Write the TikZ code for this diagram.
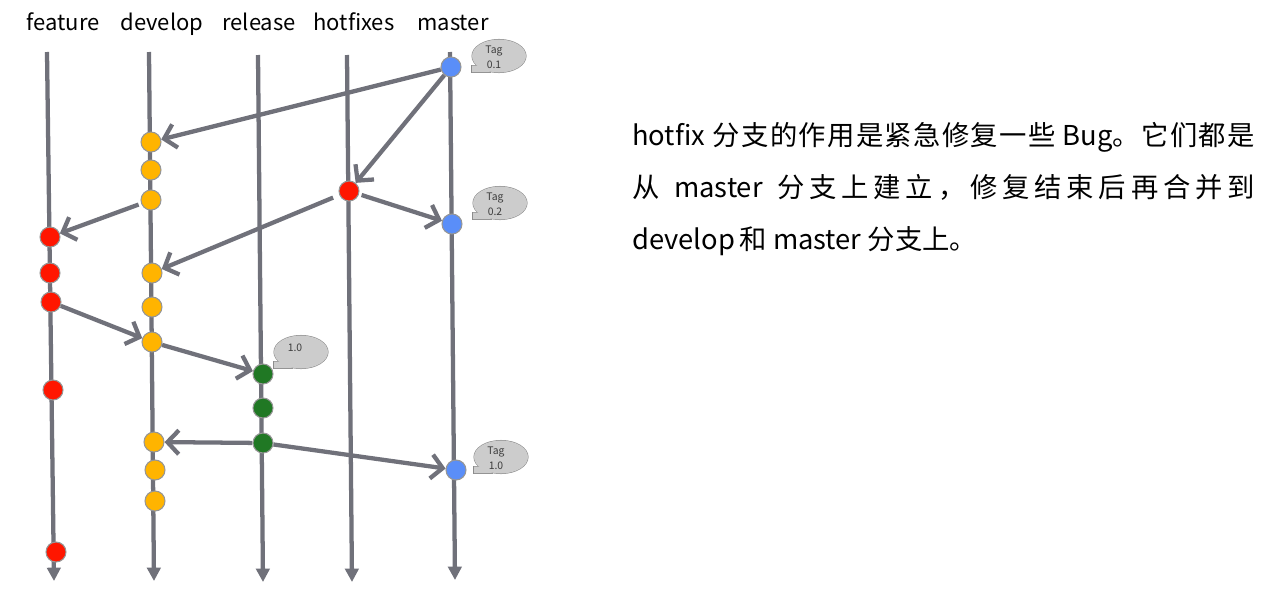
\documentclass[tikz,border=0pt]{standalone}
\usepackage{fontspec}
\newfontfamily\cjk{Noto Sans CJK SC}
\usetikzlibrary{arrows.meta,calc}
\definecolor{linegray}{RGB}{112,113,122}
\definecolor{nodeborder}{RGB}{150,150,150}
\definecolor{cblue}{RGB}{90,142,248}
\definecolor{corange}{RGB}{255,180,0}
\definecolor{cred}{RGB}{255,22,0}
\definecolor{cgreen}{RGB}{32,120,36}
\definecolor{bubfill}{RGB}{204,204,204}
\definecolor{bubline}{RGB}{140,140,140}
\definecolor{tagtextc}{RGB}{60,60,60}
\newcommand\jg{\hskip 0pt plus 1fil}
\newcommand\tagbub[2]{%
  \draw[bubline,line width=0.8pt] (#1-21,#2+9.5) -- (#1-27,#2+9.5) -- (#1-27,#2+16) -- (#1-8,#2+16);
  \draw[bubline,line width=0.8pt] (#1,#2) ellipse [x radius=27, y radius=16.5];
  \fill[bubfill] (#1-21,#2+9.5) -- (#1-27,#2+9.5) -- (#1-27,#2+16) -- (#1-8,#2+16) -- cycle;
  \fill[bubfill] (#1,#2) ellipse [x radius=27, y radius=16.5];
}
\begin{document}
\begin{tikzpicture}[x=0.75pt,y=-0.75pt,
  branchlabel/.style={font=\cjk\fontsize{16.5}{18}\selectfont, text=black, anchor=base, inner sep=0pt},
  branch/.style={draw=linegray, line width=3.2pt, -{Triangle[length=10pt,width=10pt]}},
  merge/.style={draw=linegray, line width=3.2pt, -{Straight Barb[length=8.5pt,width=18pt]}},
  commit/.style={circle, draw=nodeborder, line width=0.8pt, minimum size=15pt, inner sep=0pt},
  blue commit/.style={commit, fill=cblue},
  orange commit/.style={commit, fill=corange},
  red commit/.style={commit, fill=cred},
  green commit/.style={commit, fill=cgreen},
  tagtext/.style={font=\cjk\fontsize{7.8}{11}\selectfont, text=tagtextc, align=center, inner sep=0pt},
  desc/.style={font=\cjk\fontsize{20.5}{24}\selectfont, text=black, anchor=base west, inner sep=0pt}
]
\useasboundingbox (0,0) rectangle (1265,593);
\fill[white] (0,0) rectangle (1265,593);

% branch labels
\node[branchlabel] (lfeature) at (63,30) {feature};
\node[branchlabel] (ldevelop) at (162,30) {develop};
\node[branchlabel] (lrelease) at (259,30) {release};
\node[branchlabel] (lhotfixes) at (354,30) {hotfixes};
\node[branchlabel] (lmaster) at (453,30) {master};

% branch lines
\coordinate (ft) at (47,52);  \coordinate (fb) at (54,581);
\coordinate (dt) at (149,52); \coordinate (db) at (154,581);
\coordinate (rt) at (258,55); \coordinate (rb) at (263,582);
\coordinate (ht) at (347,55); \coordinate (hb) at (352,582);
\coordinate (mt) at (450,52); \coordinate (mb) at (455,580);
\draw[branch] (ft) -- (fb);
\draw[branch] (dt) -- (db);
\draw[branch] (rt) -- (rb);
\draw[branch] (ht) -- (hb);
\draw[branch] (mt) -- (mb);

% tags
\tagbub{499}{56}
\node[tagtext] (tag01) at (494,57) {Tag\\0.1};
\tagbub{500}{203}
\node[tagtext] (tag02) at (495,204) {Tag\\0.2};
\tagbub{301}{352}
\node[tagtext] (tag10r) at (295,348) {1.0};
\tagbub{501}{457}
\node[tagtext] (tag10m) at (496,458) {Tag\\1.0};

% commits
\node[blue commit] (M1) at (451,67) {};
\node[blue commit] (M2) at (452,224) {};
\node[blue commit] (M3) at (456,470) {};

\node[orange commit] (D1) at (151,142) {};
\node[orange commit] (D2) at (151,170) {};
\node[orange commit] (D3) at (151,200) {};
\node[orange commit] (D4) at (152,273) {};
\node[orange commit] (D5) at (152,307) {};
\node[orange commit] (D6) at (152,342) {};
\node[orange commit] (D7) at (154,442) {};
\node[orange commit] (D8) at (155,470) {};
\node[orange commit] (D9) at (155,501) {};

\node[red commit] (F1) at (50,237) {};
\node[red commit] (F2) at (50,273) {};
\node[red commit] (F3) at (51,302) {};
\node[red commit] (F4) at (53,390) {};
\node[red commit] (F5) at (56,552) {};

\node[red commit] (H1) at (349,191) {};

\node[green commit] (R1) at (263,374) {};
\node[green commit] (R2) at (263,408) {};
\node[green commit] (R3) at (263,443) {};

% merges
\draw[merge] (M1) -- (D1);
\draw[merge] (M1) -- (H1);
\draw[merge, shorten <=2pt] (H1) -- (M2);
\draw[merge, shorten <=5pt] (H1) -- (D4);
\draw[merge, shorten <=2pt] (D3) -- (F1);
\draw[merge] (F3) -- (D6);
\draw[merge] (D6) -- (R1);
\draw[merge] (R3) -- (D7);
\draw[merge] (R3) -- (M3);

% description
\node[desc] (t1) at (632,145) {\makebox[467pt][s]{hotfix\ \jg 分\jg 支\jg 的\jg 作\jg 用\jg 是\jg 紧\jg 急\jg 修\jg 复\jg 一\jg 些\ \jg Bug。\jg 它\jg 们\jg 都\jg 是}};
\node[desc] (t2) at (632,197) {\makebox[467pt][s]{从\jg\jg\jg master\jg\jg\jg 分\jg 支\jg 上\jg 建\jg 立\jg ，\jg 修\jg 复\jg 结\jg 束\jg 后\jg 再\jg 合\jg 并\jg 到}};
\node[desc] (t3) at (632,249) {develop\,和 master 分支上。};
\end{tikzpicture}
\end{document}
